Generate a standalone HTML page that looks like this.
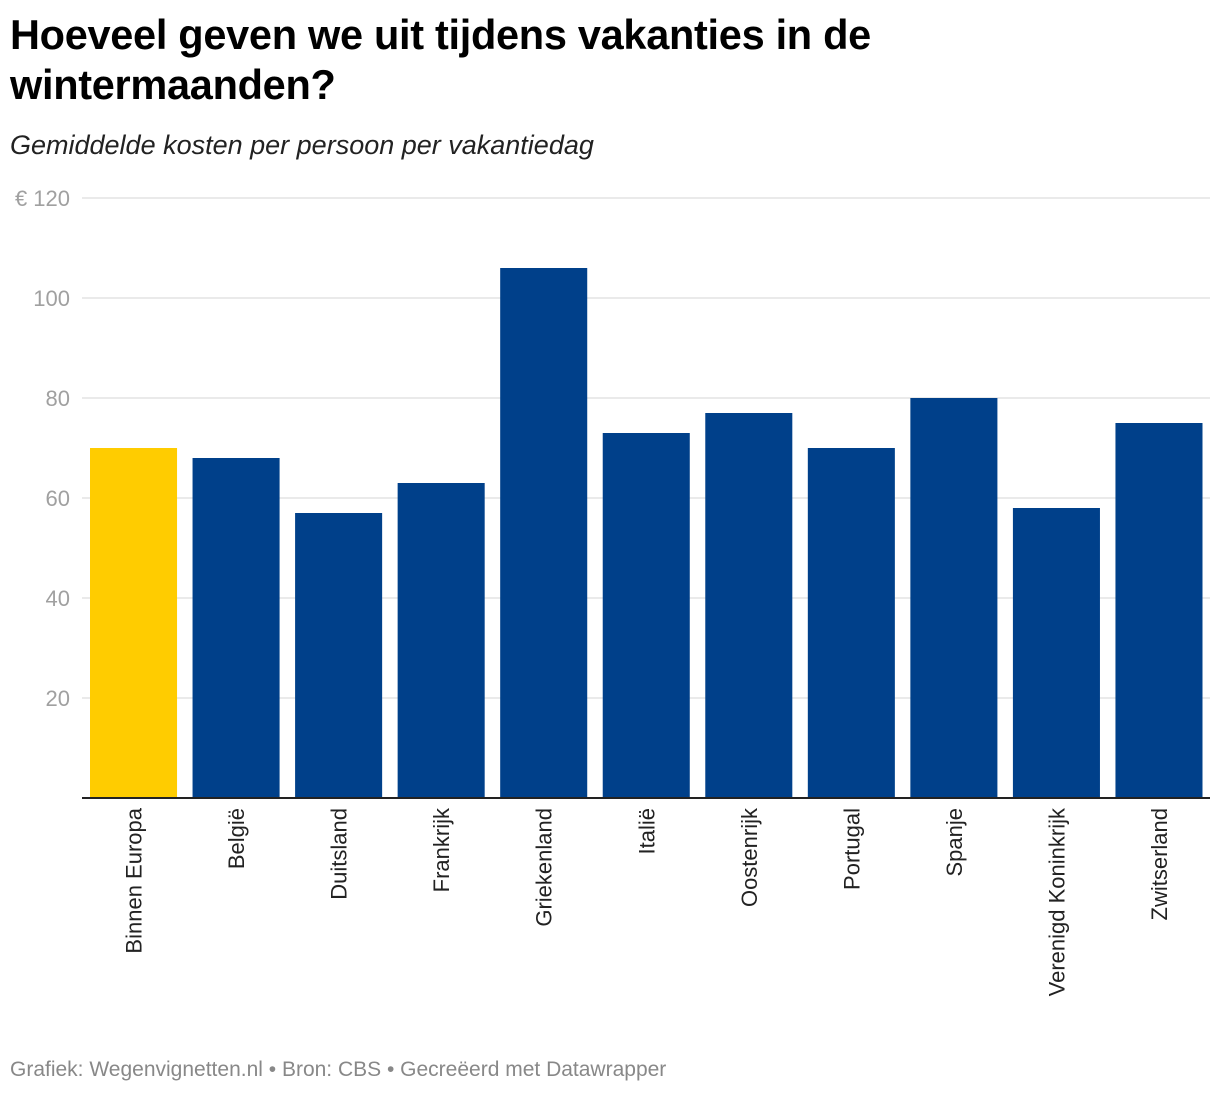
<!DOCTYPE html>
<html><head><meta charset="utf-8"><style>
body{margin:0;background:#fff;font-family:"Liberation Sans",sans-serif;}
#wrap{position:relative;width:1220px;height:1096px;overflow:hidden;}
h1{position:absolute;left:10px;top:10px;margin:0;font-size:41.5px;line-height:50px;font-weight:bold;color:#000;letter-spacing:-0.3px;}
#sub{position:absolute;left:10px;top:130px;font-size:27px;font-style:italic;color:#222;}
#foot{position:absolute;left:10px;top:1058px;font-size:21px;color:#888;}
</style></head><body>
<div id="wrap">
<h1>Hoeveel geven we uit tijdens vakanties in de<br>wintermaanden?</h1>
<div id="sub">Gemiddelde kosten per persoon per vakantiedag</div>
<svg id="svg" width="1220" height="1096" style="position:absolute;left:0;top:0"></svg>
<div id="foot">Grafiek: Wegenvignetten.nl • Bron: CBS • Gecreëerd met Datawrapper</div>
</div>
<script>
const categories=["Binnen Europa","België","Duitsland","Frankrijk","Griekenland","Italië","Oostenrijk","Portugal","Spanje","Verenigd Koninkrijk","Zwitserland"];
const values=[70,68,57,63,106,73,77,70,80,58,75];
const ticks=[20,40,60,80,100,120];
const tickLabels=["20","40","60","80","100","€ 120"];
const svg=document.getElementById('svg');
const NS="http://www.w3.org/2000/svg";
const x0=82,x1=1210,yTop=198,yBot=798,yMax=120;
const y=v=>yBot-(v/yMax)*(yBot-yTop);
const step=(x1-x0)/categories.length;
function mk(t,a){const e=document.createElementNS(NS,t);for(const k in a)e.setAttribute(k,a[k]);svg.appendChild(e);return e;}
ticks.forEach((t,i)=>{
  const l=mk('line',{x1:x0,x2:x1,y1:y(t),y2:y(t),stroke:'#e3e3e3','stroke-width':1.5});
  
  
  const tx=mk('text',{x:70,y:y(t)+8,'text-anchor':'end','font-size':22,fill:'#a0a0a0','font-family':'Liberation Sans'});
  tx.textContent=tickLabels[i];
  
  
});
categories.forEach((c,i)=>{
  const bx=x0+i*step+8;
  const r=mk('rect',{x:bx,y:y(values[i]),width:step-15.5,height:yBot-y(values[i]),fill:i===0?'#ffcc00':'#00408a'});
  
  
  const cx=bx+(step-15.5)/2;
  const t=mk('text',{transform:`translate(${cx+8},808) rotate(-90)`,'text-anchor':'end','font-size':22,fill:'#222','font-family':'Liberation Sans'});
  t.textContent=c;
  
  
});
const ax=mk('line',{x1:x0,x2:x1,y1:yBot,y2:yBot,stroke:'#222','stroke-width':2});


</script>
</body></html>
